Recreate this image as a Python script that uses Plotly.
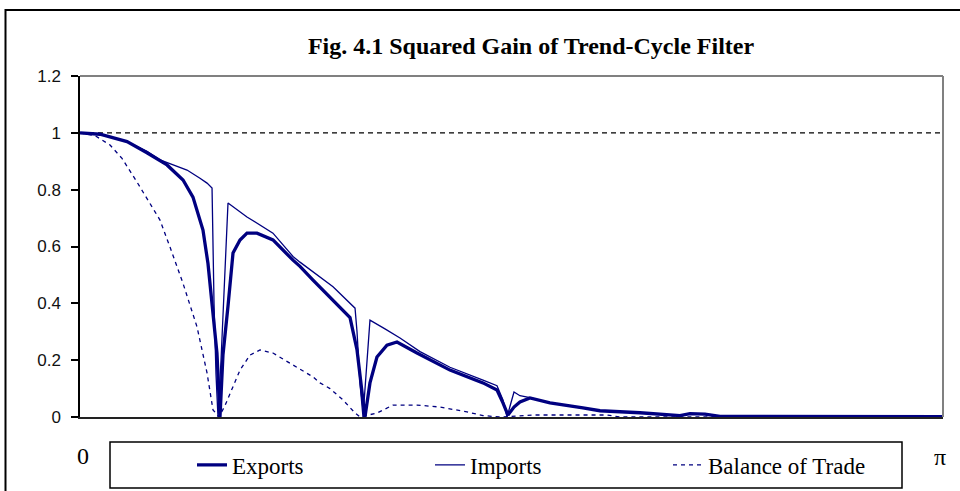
import plotly.graph_objects as go

# x positions are frequencies in units of pi (0 .. 1)
exp_x = [0.0, 0.0232, 0.0545, 0.0776, 0.1008, 0.1194, 0.1309, 0.1425, 0.1483, 0.1541,
         0.1587, 0.1622, 0.1657, 0.1715, 0.1773, 0.1854, 0.1935, 0.2051, 0.2236, 0.2468,
         0.2549, 0.2700, 0.2932, 0.3013, 0.3129, 0.3210, 0.3268, 0.3302, 0.3360, 0.3441,
         0.3557, 0.3673, 0.3905, 0.4287, 0.4670, 0.4832, 0.4901, 0.4959, 0.5029, 0.5098,
         0.5214, 0.5446, 0.5828, 0.6025, 0.6489, 0.6952, 0.7068, 0.7242, 0.7416, 1.0]
exp_y = [1.0, 0.995, 0.969, 0.93, 0.887, 0.834, 0.774, 0.658, 0.54, 0.366,
         0.225, 0.0, 0.22, 0.39, 0.577, 0.623, 0.647, 0.647, 0.623, 0.552,
         0.53, 0.482, 0.41, 0.385, 0.35, 0.236, 0.095, 0.0, 0.12, 0.211,
         0.253, 0.264, 0.225, 0.165, 0.12, 0.095, 0.05, 0.007, 0.035, 0.053,
         0.067, 0.05, 0.032, 0.022, 0.015, 0.005, 0.012, 0.01, 0.002, 0.001]

imp_x = [0.0, 0.0232, 0.0545, 0.0776, 0.0927, 0.1101, 0.1240, 0.1390, 0.1472, 0.1530,
         0.1541, 0.1553, 0.1576, 0.1599, 0.1634, 0.1680, 0.1715, 0.1935, 0.2236, 0.2468,
         0.2549, 0.2932, 0.3187, 0.3210, 0.3244, 0.3279, 0.3314, 0.3360, 0.3534, 0.3708,
         0.3940, 0.4287, 0.4670, 0.4832, 0.4901, 0.4948, 0.4994, 0.5029, 0.5098, 0.5214,
         0.5446, 0.5828, 0.6025, 0.6489, 0.6952, 0.7068, 0.7242, 0.7416, 1.0]
imp_y = [1.0, 0.995, 0.969, 0.935, 0.905, 0.885, 0.869, 0.84, 0.823, 0.806,
         0.6, 0.4, 0.15, 0.0, 0.2, 0.5, 0.753, 0.704, 0.647, 0.565,
         0.545, 0.458, 0.383, 0.3, 0.12, 0.0, 0.15, 0.341, 0.31, 0.278,
         0.23, 0.175, 0.13, 0.11, 0.06, 0.0, 0.05, 0.088, 0.075, 0.068,
         0.05, 0.032, 0.022, 0.015, 0.005, 0.012, 0.01, 0.002, 0.001]

bot_x = [0.0, 0.0174, 0.0348, 0.0487, 0.0660, 0.0811, 0.0927, 0.1043, 0.1194, 0.1356,
         0.1472, 0.1541, 0.1611, 0.1680, 0.1738, 0.1854, 0.1970, 0.2086, 0.2236, 0.2468,
         0.2700, 0.2781, 0.2897, 0.3048, 0.3187, 0.3244, 0.3441, 0.3627, 0.3905, 0.4171,
         0.4484, 0.4670, 0.4867, 0.5249, 0.6107, 0.6257, 1.0]
bot_y = [1.0, 0.99, 0.957, 0.91, 0.827, 0.753, 0.693, 0.598, 0.47, 0.317,
         0.155, 0.025, 0.0, 0.04, 0.084, 0.165, 0.218, 0.236, 0.225, 0.183,
         0.141, 0.12, 0.1, 0.06, 0.014, 0.0, 0.014, 0.042, 0.042, 0.035,
         0.018, 0.005, 0.0, 0.007, 0.007, 0.0, 0.0]

ref_x = [0.0, 1.0]
ref_y = [1.0, 1.0]

y_ticks = [0, 0.2, 0.4, 0.6, 0.8, 1, 1.2]
series_names = ["Exports", "Imports", "Balance of Trade"]

NAVY = "#000080"
SERIF = "Liberation Serif"

fig = go.Figure()
fig.add_trace(go.Scatter(x=ref_x, y=ref_y, mode="lines", showlegend=False,
                         line=dict(color="black", width=1.2, dash="5px,4px"), hoverinfo="skip"))
fig.add_trace(go.Scatter(x=exp_x, y=exp_y, mode="lines", name=series_names[0],
                         line=dict(color=NAVY, width=3.3)))
fig.add_trace(go.Scatter(x=imp_x, y=imp_y, mode="lines", name=series_names[1],
                         line=dict(color=NAVY, width=1.3)))
fig.add_trace(go.Scatter(x=bot_x, y=bot_y, mode="lines", name=series_names[2],
                         line=dict(color=NAVY, width=1.3, dash="4px,4px")))

W, H = 960, 491
L, R, T, B = 80, 17, 76, 74
PW, PH = W - L - R, H - T - B


def px(xp):
    return (xp - L) / PW


def py(yp):
    return (H - B - yp) / PH


shapes = [
    # outer chart frame
    dict(type="rect", xref="paper", yref="paper", x0=px(5.5), x1=px(975), y0=py(500), y1=py(10),
         line=dict(color="black", width=2), layer="below"),
    # plot area border (top and right)
    dict(type="line", xref="paper", yref="paper", x0=0, x1=1, y0=1, y1=1,
         line=dict(color="#808080", width=2)),
    dict(type="line", xref="paper", yref="paper", x0=1, x1=1, y0=0, y1=1,
         line=dict(color="#808080", width=2)),
    # legend box
    dict(type="rect", xref="paper", yref="paper", x0=px(110), x1=px(902), y0=py(488), y1=py(442),
         line=dict(color="black", width=1.5)),
]

annotations = [
    dict(text="0", xref="paper", yref="paper", x=px(83), y=py(456), xanchor="center",
         yanchor="middle", showarrow=False, font=dict(family=SERIF, size=24, color="black")),
    dict(text="π", xref="paper", yref="paper", x=px(940), y=py(457), xanchor="center",
         yanchor="middle", showarrow=False, font=dict(family=SERIF, size=24, color="black")),
]

fig.update_layout(
    width=W, height=H,
    font=dict(family=SERIF, color="black"),
    margin=dict(l=L, r=R, t=T, b=B, autoexpand=False),
    paper_bgcolor="white", plot_bgcolor="white",
    title=dict(text="<b>Fig. 4.1 Squared Gain of Trend-Cycle Filter</b>",
               x=px(531), xanchor="center", xref="paper", y=1 - 46 / H, yanchor="middle",
               font=dict(family=SERIF, size=24, color="black")),
    xaxis=dict(range=[0, 1], showticklabels=False, ticks="", showgrid=False, zeroline=False,
               showline=True, linecolor="#222222", linewidth=2),
    yaxis=dict(range=[0, 1.2], tickvals=y_ticks, ticks="outside", ticklen=7, tickwidth=1.5,
               tickcolor="black", showgrid=False, zeroline=False, showline=True,
               linecolor="black", linewidth=1.5, ticklabelstandoff=7,
               tickfont=dict(family="Liberation Sans", size=17, color="#111111")),
    legend=dict(orientation="h", x=px(192), xanchor="left", y=py(465), yanchor="middle",
                font=dict(family=SERIF, size=23, color="black"), bgcolor="rgba(0,0,0,0)",
                borderwidth=0, entrywidth=193, entrywidthmode="pixels"),
    shapes=shapes, annotations=annotations,
)

fig.write_html("out.html", config={"displayModeBar": False},
               post_script="document.body.style.margin='0';")
